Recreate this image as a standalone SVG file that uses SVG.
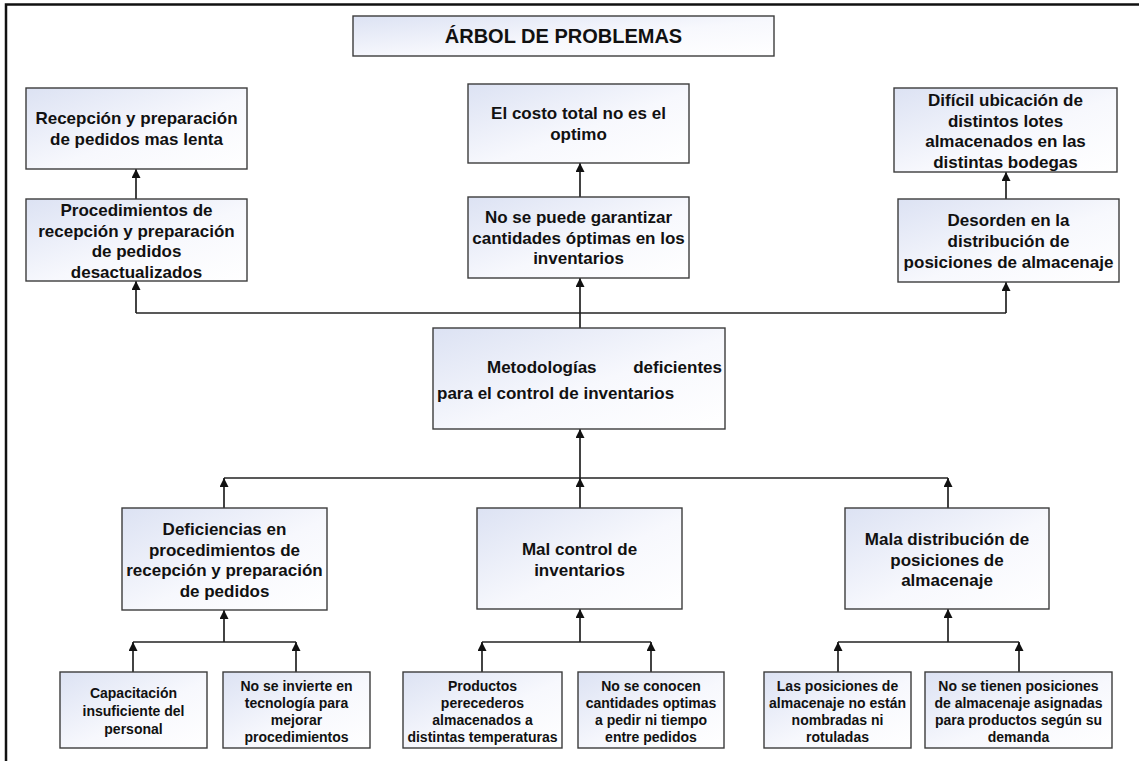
<svg xmlns="http://www.w3.org/2000/svg" width="1139" height="761" viewBox="0 0 1139 761">
  <defs>
    <linearGradient id="boxFill" x1="0" y1="0" x2="1" y2="1">
      <stop offset="0" stop-color="#dce2f3"/>
      <stop offset="0.55" stop-color="#f7f8fd"/>
      <stop offset="1" stop-color="#ffffff"/>
    </linearGradient>
    <marker id="arrow" viewBox="0 0 10 10" refX="10" refY="5" markerWidth="11" markerHeight="9" markerUnits="userSpaceOnUse" orient="auto">
      <path d="M0,0 L10,5 L0,10 z" fill="#111"/>
    </marker>
    <style>
      .box { fill: url(#boxFill); stroke: #3c3c3c; stroke-width: 1.4; }
      .t { font-family: "Liberation Sans", Arial, sans-serif; font-weight: bold; fill: #111; text-anchor: middle; }
      .title { font-size: 20px; }
      .m { font-size: 17px; }
      .s { font-size: 14px; }
      .wire { fill: none; stroke: #222; stroke-width: 1.7; }
      .frame { fill: none; stroke: #111; stroke-width: 2.5; }
    </style>
  </defs>

  <rect width="1139" height="761" fill="#fff"/>
  <!-- page frame, open to the right and bottom -->
  <path class="frame" d="M6,761 V4.5 H1139"/>

  <!-- connectors -->
  <g id="connectors">
    <!-- effects: cause to effect -->
    <line class="wire" x1="136" y1="199" x2="136" y2="169" marker-end="url(#arrow)"/>
    <line class="wire" x1="580" y1="197" x2="580" y2="163" marker-end="url(#arrow)"/>
    <line class="wire" x1="1006" y1="199" x2="1006" y2="172" marker-end="url(#arrow)"/>
    <!-- central problem up to the effects -->
    <line class="wire" x1="136" y1="313" x2="1006" y2="313"/>
    <line class="wire" x1="136" y1="313" x2="136" y2="281" marker-end="url(#arrow)"/>
    <line class="wire" x1="580" y1="328" x2="580" y2="278" marker-end="url(#arrow)"/>
    <line class="wire" x1="1006" y1="313" x2="1006" y2="282" marker-end="url(#arrow)"/>
    <!-- causes up to the central problem -->
    <line class="wire" x1="224" y1="478" x2="948" y2="478"/>
    <line class="wire" x1="580" y1="478" x2="580" y2="429" marker-end="url(#arrow)"/>
    <line class="wire" x1="224" y1="508" x2="224" y2="478" marker-end="url(#arrow)"/>
    <line class="wire" x1="580" y1="508" x2="580" y2="478" marker-end="url(#arrow)"/>
    <line class="wire" x1="948" y1="508" x2="948" y2="478" marker-end="url(#arrow)"/>
    <!-- root causes: left branch -->
    <line class="wire" x1="133" y1="642" x2="296" y2="642"/>
    <line class="wire" x1="224" y1="642" x2="224" y2="610" marker-end="url(#arrow)"/>
    <line class="wire" x1="133" y1="672" x2="133" y2="642" marker-end="url(#arrow)"/>
    <line class="wire" x1="296" y1="672" x2="296" y2="642" marker-end="url(#arrow)"/>
    <!-- root causes: middle branch -->
    <line class="wire" x1="482" y1="642" x2="651" y2="642"/>
    <line class="wire" x1="580" y1="642" x2="580" y2="609" marker-end="url(#arrow)"/>
    <line class="wire" x1="482" y1="672" x2="482" y2="642" marker-end="url(#arrow)"/>
    <line class="wire" x1="651" y1="672" x2="651" y2="642" marker-end="url(#arrow)"/>
    <!-- root causes: right branch -->
    <line class="wire" x1="838" y1="642" x2="1019" y2="642"/>
    <line class="wire" x1="948" y1="642" x2="948" y2="609" marker-end="url(#arrow)"/>
    <line class="wire" x1="838" y1="672" x2="838" y2="642" marker-end="url(#arrow)"/>
    <line class="wire" x1="1019" y1="672" x2="1019" y2="642" marker-end="url(#arrow)"/>
  </g>

  <g id="title">
    <rect class="box" x="353" y="16" width="421" height="40"/>
    <text class="t title" x="563.5" y="43">ÁRBOL DE PROBLEMAS</text>
  </g>

  <!-- effects -->
  <g id="effect-lenta">
    <rect class="box" x="26" y="88" width="221" height="81"/>
    <text class="t m" x="136.5" y="124">Recepción y preparación</text>
    <text class="t m" x="136.5" y="145">de pedidos mas lenta</text>
  </g>
  <g id="effect-procedimientos">
    <rect class="box" x="26" y="199" width="221" height="82"/>
    <text class="t m" x="136.5" y="216">Procedimientos de</text>
    <text class="t m" x="136.5" y="236.5">recepción y preparación</text>
    <text class="t m" x="136.5" y="257">de pedidos</text>
    <text class="t m" x="136.5" y="277.5">desactualizados</text>
  </g>
  <g id="effect-costo">
    <rect class="box" x="468" y="84" width="221" height="79"/>
    <text class="t m" x="578.5" y="119">El costo total no es el</text>
    <text class="t m" x="578.5" y="139.5">optimo</text>
  </g>
  <g id="effect-cantidades">
    <rect class="box" x="468" y="197" width="221" height="81"/>
    <text class="t m" x="578.5" y="223">No se puede garantizar</text>
    <text class="t m" x="578.5" y="243.5">cantidades óptimas en los</text>
    <text class="t m" x="578.5" y="264">inventarios</text>
  </g>
  <g id="effect-ubicacion">
    <rect class="box" x="894" y="88" width="223" height="84"/>
    <text class="t m" x="1005.5" y="106">Difícil ubicación de</text>
    <text class="t m" x="1005.5" y="126.5">distintos lotes</text>
    <text class="t m" x="1005.5" y="147">almacenados en las</text>
    <text class="t m" x="1005.5" y="167.5">distintas bodegas</text>
  </g>
  <g id="effect-desorden">
    <rect class="box" x="898" y="199" width="221" height="83"/>
    <text class="t m" x="1008.5" y="226">Desorden en la</text>
    <text class="t m" x="1008.5" y="246.5">distribución de</text>
    <text class="t m" x="1008.5" y="267.5">posiciones de almacenaje</text>
  </g>

  <!-- central problem -->
  <g id="central-problem">
    <rect class="box" x="433" y="328" width="292" height="101"/>
    <text class="t m" x="487" y="373" style="text-anchor:start">Metodologías</text>
    <text class="t m" x="722" y="373" style="text-anchor:end">deficientes</text>
    <text class="t m" x="437" y="398.5" style="text-anchor:start">para el control de inventarios</text>
  </g>

  <!-- causes -->
  <g id="cause-procedimientos">
    <rect class="box" x="122" y="508" width="205" height="102"/>
    <text class="t m" x="224.5" y="535">Deficiencias en</text>
    <text class="t m" x="224.5" y="555.5">procedimientos de</text>
    <text class="t m" x="224.5" y="576">recepción y preparación</text>
    <text class="t m" x="224.5" y="596.5">de pedidos</text>
  </g>
  <g id="cause-control">
    <rect class="box" x="477" y="508" width="205" height="101"/>
    <text class="t m" x="579.5" y="555">Mal control de</text>
    <text class="t m" x="579.5" y="575.5">inventarios</text>
  </g>
  <g id="cause-distribucion">
    <rect class="box" x="845" y="508" width="204" height="101"/>
    <text class="t m" x="947" y="545">Mala distribución de</text>
    <text class="t m" x="947" y="565.5">posiciones de</text>
    <text class="t m" x="947" y="586">almacenaje</text>
  </g>

  <!-- root causes -->
  <g id="root-capacitacion">
    <rect class="box" x="60" y="672" width="147" height="76"/>
    <text class="t s" x="133.5" y="698">Capacitación</text>
    <text class="t s" x="133.5" y="716">insuficiente del</text>
    <text class="t s" x="133.5" y="734">personal</text>
  </g>
  <g id="root-tecnologia">
    <rect class="box" x="223" y="672" width="147" height="76"/>
    <text class="t s" x="296.5" y="691">No se invierte en</text>
    <text class="t s" x="296.5" y="708">tecnología para</text>
    <text class="t s" x="296.5" y="725">mejorar</text>
    <text class="t s" x="296.5" y="742">procedimientos</text>
  </g>
  <g id="root-perecederos">
    <rect class="box" x="403" y="672" width="159" height="76"/>
    <text class="t s" x="482.5" y="691">Productos</text>
    <text class="t s" x="482.5" y="708">perecederos</text>
    <text class="t s" x="482.5" y="725">almacenados a</text>
    <text class="t s" x="482.5" y="742">distintas temperaturas</text>
  </g>
  <g id="root-cantidades">
    <rect class="box" x="578" y="672" width="146" height="76"/>
    <text class="t s" x="651" y="691">No se conocen</text>
    <text class="t s" x="651" y="708">cantidades optimas</text>
    <text class="t s" x="651" y="725">a pedir ni tiempo</text>
    <text class="t s" x="651" y="742">entre pedidos</text>
  </g>
  <g id="root-rotulado">
    <rect class="box" x="764" y="672" width="147" height="76"/>
    <text class="t s" x="837.5" y="691">Las posiciones de</text>
    <text class="t s" x="837.5" y="708">almacenaje no están</text>
    <text class="t s" x="837.5" y="725">nombradas ni</text>
    <text class="t s" x="837.5" y="742">rotuladas</text>
  </g>
  <g id="root-asignacion">
    <rect class="box" x="925" y="672" width="187" height="76"/>
    <text class="t s" x="1018.5" y="691">No se tienen posiciones</text>
    <text class="t s" x="1018.5" y="708">de almacenaje asignadas</text>
    <text class="t s" x="1018.5" y="725">para productos según su</text>
    <text class="t s" x="1018.5" y="742">demanda</text>
  </g>
</svg>
